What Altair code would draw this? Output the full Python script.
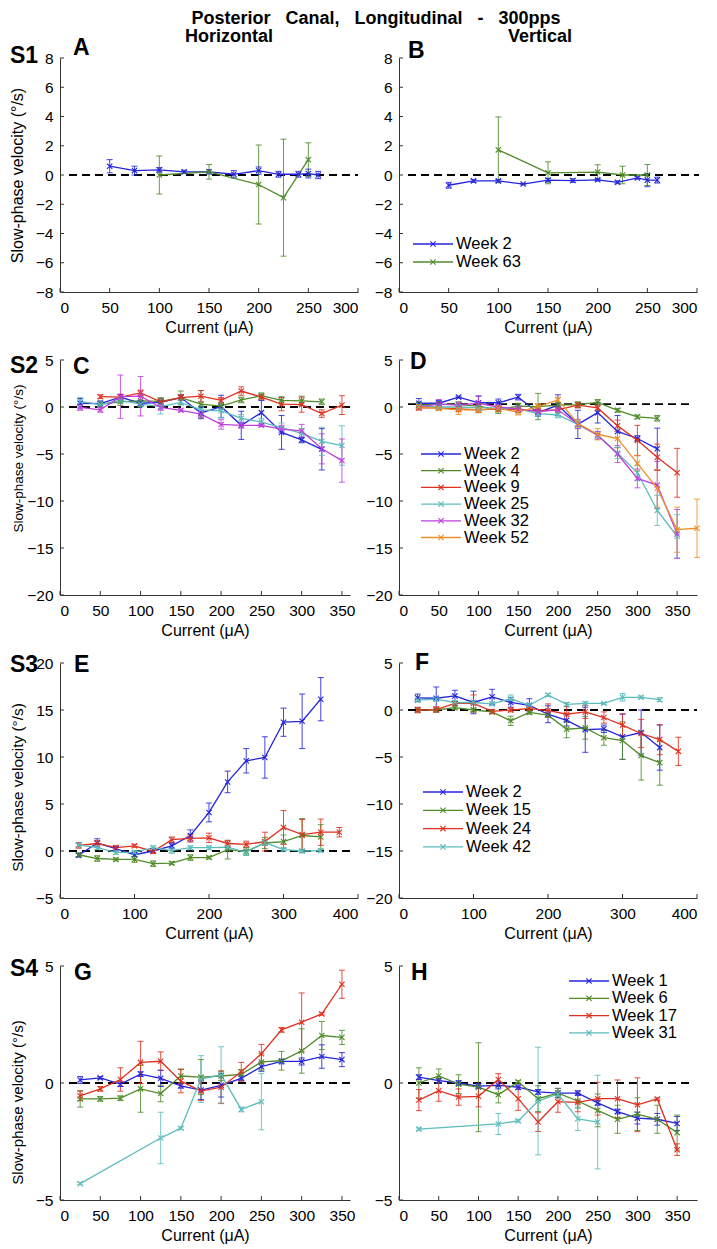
import altair as alt
import pandas as pd

FONT = "Liberation Sans"
BLUE, GREEN, RED, CYAN, MAGENTA, ORANGE = "#2424dc", "#4f8b28", "#e0301f", "#5dbcbc", "#bf3fdd", "#ea922a"
AXIS_COLOR = "#333333"
X_PATH = "M-1,-1L1,1M-1,1L1,-1"

# ---------------- data ----------------
S1_X = [50, 75, 100, 125, 150, 175, 200, 220, 240, 250, 260]
S1_X63 = [100, 150, 200, 225, 250]
X25_325 = [25, 50, 75, 100, 125, 150, 175, 200, 225, 250, 275, 300, 325]
X25_350 = [25, 50, 75, 100, 125, 150, 175, 200, 225, 250, 275, 300, 325, 350]
X25_375 = [25, 50, 75, 100, 125, 150, 175, 200, 225, 250, 275, 300, 325, 350, 375]
X50_325 = [50, 75, 100, 125, 150, 175, 200, 225, 250, 275, 300, 325]
X50_350 = [50, 75, 100, 125, 150, 175, 200, 225, 250, 275, 300, 325, 350]
S4_X31 = [25, 125, 150, 175, 200, 225, 250]

# Panel A (S1 horizontal)
A_W2_Y = [0.6, 0.3, 0.35, 0.22, 0.22, 0.05, 0.3, 0.05, 0.05, 0.1, 0.0]
A_W2_E = [0.45, 0.3, 0.15, 0.1, 0.15, 0.25, 0.25, 0.2, 0.2, 0.3, 0.25]
A_W63_Y = [0.0, 0.22, -0.65, -1.55, 1.05]
A_W63_E = [1.3, 0.5, 2.7, 4.0, 1.15]
# Panel B (S1 vertical)
B_W2_Y = [-0.7, -0.4, -0.4, -0.62, -0.35, -0.38, -0.33, -0.5, -0.2, -0.35, -0.35]
B_W2_E = [0.2, 0.1, 0.08, 0.05, 0.12, 0.12, 0.08, 0.1, 0.08, 0.45, 0.2]
B_W63_Y = [1.72, 0.15, 0.2, 0.0, 0.0]
B_W63_E = [2.25, 0.75, 0.5, 0.6, 0.72]
# Panel C (S2 horizontal)
C_W2_Y = [0.4, 0.35, 1.05, 0.4, 0.5, 1.0, -0.65, 0.05, -1.95, -0.6, -2.7, -3.5, -4.5]
C_W2_E = [0.5, 0.3, 0.3, 0.3, 0.4, 0.3, 0.6, 1.2, 1.5, 1.3, 1.8, 0.3, 2.2]
C_W4_Y = [0.3, 0.55, 0.65, 0.6, 1.0, 0.3, 0.1, 0.75, 1.2, 0.7, 0.65, 0.55]
C_W4_E = [0.3, 0.4, 0.5, 0.4, 0.7, 1.45, 0.3, 0.3, 0.3, 0.4, 0.5, 0.3]
C_W9_Y = [1.1, 1.05, 1.5, 0.55, 1.0, 1.15, 0.7, 1.7, 1.05, 0.3, 0.25, -0.7, 0.2]
C_W9_E = [0.2, 0.3, 0.3, 0.3, 0.3, 0.6, 0.3, 0.45, 0.3, 0.7, 0.8, 0.4, 1.0]
C_W25_Y = [0.6, 0.25, 0.7, 0.3, 0.05, 0.5, -0.3, -0.4, -1.2, -1.6, -2.2, -2.8, -3.65, -4.1]
C_W25_E = [0.4, 0.3, 0.3, 0.3, 0.8, 0.3, 0.4, 0.7, 0.4, 0.4, 0.5, 0.5, 1.5, 2.1]
C_W32_Y = [-0.05, -0.3, 1.1, 1.15, -0.05, -0.35, -0.75, -1.85, -1.95, -1.95, -2.35, -2.55, -4.45, -5.7]
C_W32_E = [0.3, 0.25, 2.3, 2.1, 0.3, 0.15, 0.3, 0.5, 0.3, 0.15, 0.4, 0.7, 1.6, 2.3]
# Panel D (S2 vertical)
D_W2_Y = [0.4, 0.4, 1.05, 0.45, 0.45, 1.05, -0.6, 0.2, -1.85, -0.6, -2.6, -3.35, -4.45]
D_W2_E = [0.5, 0.3, 0.1, 0.7, 0.4, 0.3, 0.4, 1.1, 1.5, 1.1, 1.7, 0.3, 2.2]
D_W4_Y = [0.2, 0.3, 0.25, 0.1, -0.3, 0.1, 0.05, 0.2, 0.25, 0.5, -0.35, -1.05, -1.2]
D_W4_E = [0.3, 0.3, 0.3, 0.3, 0.4, 0.3, 1.4, 0.3, 0.3, 0.3, 0.2, 0.2, 0.3]
D_W9_Y = [-0.1, -0.1, -0.2, -0.3, -0.2, -0.3, -0.4, -0.3, 0.2, -0.1, -2.0, -3.55, -5.35, -7.0]
D_W9_E = [0.2, 0.2, 0.3, 0.3, 0.3, 0.3, 0.3, 0.3, 0.3, 0.3, 0.6, 1.6, 1.4, 2.6]
D_W25_Y = [0.1, 0.0, 0.0, -0.1, -0.1, -0.2, -0.7, -0.85, -1.85, -3.0, -4.9, -7.0, -11.0, -13.75]
D_W25_E = [0.2, 0.2, 0.2, 0.2, 0.2, 0.3, 0.3, 0.3, 0.4, 0.4, 0.6, 0.8, 1.6, 2.3]
D_W32_Y = [0.0, 0.3, 0.2, 0.4, 0.0, -0.2, -0.5, -0.3, -1.8, -3.0, -5.0, -7.6, -8.3, -13.5]
D_W32_E = [0.3, 0.5, 0.3, 0.8, 0.3, 0.3, 0.3, 0.3, 0.5, 0.4, 0.9, 1.0, 2.5, 2.6]
D_W52_Y = [0.0, -0.15, -0.3, -0.3, -0.15, -0.55, 0.05, 0.75, -1.75, -2.9, -3.35, -6.0, -8.65, -13.05, -12.9]
D_W52_E = [0.3, 0.2, 0.5, 0.3, 0.3, 0.3, 0.3, 0.3, 0.4, 0.6, 1.0, 0.8, 2.0, 2.4, 3.1]
# Panel E (S3 horizontal)
E_W2_Y = [-0.45, 0.85, 0.25, -0.4, 0.0, 0.55, 1.65, 4.1, 7.35, 9.6, 9.95, 13.7, 13.8, 16.15]
E_W2_E = [0.2, 0.45, 0.2, 0.2, 0.2, 0.3, 0.6, 1.0, 1.15, 1.3, 2.2, 1.5, 2.9, 2.3]
E_W15_Y = [-0.4, -0.8, -0.9, -0.9, -1.35, -1.3, -0.7, -0.7, 0.15, -0.05, 0.85, 1.0, 1.65, 1.5]
E_W15_E = [0.2, 0.3, 0.15, 0.3, 0.3, 0.15, 0.3, 0.15, 1.0, 0.4, 0.6, 0.7, 1.8, 1.3]
E_W24_Y = [0.6, 0.8, 0.35, 0.55, -0.05, 1.2, 1.35, 1.4, 0.8, 0.7, 1.0, 2.5, 1.75, 2.0, 2.0]
E_W24_E = [0.3, 0.3, 0.25, 0.15, 0.2, 0.3, 0.4, 0.5, 0.3, 0.35, 1.0, 1.8, 1.6, 1.4, 0.5]
E_W42_Y = [0.65, 0.35, -0.15, -0.15, 0.35, 0.05, 0.35, 0.35, 0.4, -0.15, 0.9, 0.15, 0.0, 0.05]
E_W42_E = [0.15, 0.2, 0.2, 0.2, 0.2, 0.3, 0.2, 0.2, 0.2, 0.3, 0.3, 0.15, 0.2, 0.15]
# Panel F (S3 vertical)
F_W2_Y = [1.3, 1.25, 1.5, 0.8, 1.4, 0.8, 0.5, -0.45, -1.1, -2.1, -2.0, -2.85, -2.4, -4.0]
F_W2_E = [0.4, 1.2, 0.6, 1.2, 0.8, 0.5, 0.7, 0.9, 0.6, 2.4, 0.4, 2.4, 2.4, 2.4]
F_W15_Y = [0.0, 0.0, 0.25, 0.0, -0.2, -1.15, -0.25, -0.55, -2.05, -1.9, -2.95, -3.25, -4.85, -5.6]
F_W15_E = [0.2, 0.2, 0.2, 0.2, 0.2, 0.5, 0.2, 0.2, 0.9, 1.2, 0.8, 2.0, 2.6, 2.4]
F_W24_Y = [0.0, 0.05, 0.7, 0.7, -0.15, 0.0, 0.15, -0.05, -0.45, -0.2, -0.8, -1.6, -2.5, -3.15, -4.4]
F_W24_E = [0.3, 0.3, 0.2, 0.9, 0.2, 0.2, 0.2, 0.7, 0.8, 0.7, 0.6, 1.2, 1.5, 1.6, 1.5]
F_W42_Y = [1.05, 1.15, 0.8, 0.8, 0.65, 1.2, 0.5, 1.6, 0.6, 0.7, 0.7, 1.35, 1.35, 1.1]
F_W42_E = [0.2, 0.2, 0.2, 0.2, 0.2, 0.4, 0.2, 0.15, 0.2, 0.2, 0.1, 0.4, 0.15, 0.2]
# Panel G (S4 horizontal)
G_W1_Y = [0.13, 0.22, -0.05, 0.38, 0.2, -0.12, -0.3, -0.1, 0.2, 0.7, 0.92, 0.92, 1.13, 1.0]
G_W1_E = [0.15, 0.05, 0.1, 0.1, 0.35, 0.1, 0.4, 0.5, 0.1, 0.2, 0.1, 0.15, 0.5, 0.3]
G_W6_Y = [-0.68, -0.68, -0.65, -0.25, -0.45, 0.3, 0.25, 0.3, 0.37, 0.9, 0.95, 1.37, 2.03, 1.95]
G_W6_E = [0.35, 0.1, 0.1, 1.0, 0.35, 0.3, 0.75, 0.2, 0.2, 0.35, 0.4, 0.95, 0.6, 0.3]
G_W17_Y = [-0.55, -0.25, 0.15, 0.88, 0.93, 0.08, -0.35, -0.18, 0.48, 1.25, 2.27, 2.6, 2.95, 4.22]
G_W17_E = [0.2, 0.1, 0.5, 0.9, 0.4, 0.5, 0.4, 0.7, 0.4, 0.4, 0.1, 1.25, 0.05, 0.6]
G_W31_Y = [-4.3, -2.35, -1.93, 0.17, 0.35, -1.13, -0.8]
G_W31_E = [0.05, 1.1, 0.05, 1.0, 1.2, 0.1, 1.2]
# Panel H (S4 vertical)
H_W1_Y = [0.25, 0.1, 0.0, -0.13, -0.1, -0.18, -0.38, -0.43, -0.43, -0.85, -1.22, -1.5, -1.55, -1.73]
H_W1_E = [0.1, 0.1, 0.1, 0.1, 0.15, 0.1, 0.1, 0.2, 0.1, 0.1, 0.1, 0.25, 0.25, 0.3]
H_W6_Y = [0.0, 0.3, -0.05, -0.18, -0.5, 0.05, -0.67, -0.43, -0.77, -1.17, -1.55, -1.33, -1.55, -2.12]
H_W6_E = [0.65, 0.3, 0.4, 1.9, 0.35, 0.05, 0.55, 0.2, 0.3, 0.7, 0.6, 0.7, 0.6, 0.75]
H_W17_Y = [-0.73, -0.33, -0.6, -0.57, 0.15, -0.67, -1.67, -0.8, -0.83, -0.67, -0.67, -0.93, -0.68, -2.85]
H_W17_E = [0.45, 0.45, 0.35, 0.45, 0.25, 0.5, 0.4, 0.45, 0.4, 0.7, 0.8, 1.15, 0.05, 0.25]
H_W31_Y = [-1.97, -1.75, -1.62, -0.77, -0.47, -1.53, -1.67]
H_W31_E = [0.05, 0.45, 0.05, 2.3, 0.1, 0.5, 2.0]

TICKS_300 = [0, 50, 100, 150, 200, 250, 300]
TICKS_350 = [0, 50, 100, 150, 200, 250, 300, 350]
TICKS_400 = [0, 100, 200, 300, 400]
Y_TICKS_8 = [-8, -6, -4, -2, 0, 2, 4, 6, 8]
Y_TICKS_20 = [-20, -15, -10, -5, 0, 5]
Y_TICKS_E = [-5, 0, 5, 10, 15, 20]
Y_TICKS_5 = [-5, 0, 5]

YTITLE = "Slow-phase velocity (°/s)"
XTITLE = "Current (μA)"
SP = "\u00a0\u00a0\u00a0"
MAIN_TITLE = "Posterior" + SP + "Canal," + SP + "Longitudinal" + SP + "-" + SP + "300pps"

PANELS = [
    dict(letter="A", lpos=(13, -3), s=("S1", 5), ytitle=(117, 16),
         xdom=[0, 300], xt=TICKS_300, ydom=[-8, 8], yt=Y_TICKS_8, w=298, h=234, zero=0, zend=298,
         series=[("Week 2", BLUE, S1_X, A_W2_Y, A_W2_E), ("Week 63", GREEN, S1_X63, A_W63_Y, A_W63_E)],
         legend=None, extra=[("Horizontal", 169, -16, "center", "alphabetic"),
                             (MAIN_TITLE, 316, -48, "center", "top")]),
    dict(letter="B", lpos=(9, 0), s=None, ytitle=None,
         xdom=[0, 300], xt=TICKS_300, ydom=[-8, 8], yt=Y_TICKS_8, w=298, h=234, zero=0, zend=300,
         series=[("Week 2", BLUE, S1_X, B_W2_Y, B_W2_E), ("Week 63", GREEN, S1_X63, B_W63_Y, B_W63_E)],
         legend=(14, 54, 186, 18), extra=[("Vertical", 141, -16, "center", "alphabetic")]),
    dict(letter="C", lpos=(13, 14), s=("S2", 13), ytitle=(98, 13.5),
         xdom=[0, 360], xt=TICKS_350, ydom=[-20, 5], yt=Y_TICKS_20, w=290, h=235, zero=0, zend=290,
         series=[("Week 2", BLUE, X25_325, C_W2_Y, C_W2_E), ("Week 4", GREEN, X50_325, C_W4_Y, C_W4_E),
                 ("Week 9", RED, X50_350, C_W9_Y, C_W9_E), ("Week 25", CYAN, X25_350, C_W25_Y, C_W25_E),
                 ("Week 32", MAGENTA, X25_350, C_W32_Y, C_W32_E)],
         legend=None, extra=[]),
    dict(letter="D", lpos=(11, 9), s=None, ytitle=None,
         xdom=[0, 375], xt=TICKS_350, ydom=[-20, 5], yt=Y_TICKS_20, w=298, h=235, zero=0.3, zend=290,
         series=[("Week 2", BLUE, X25_325, D_W2_Y, D_W2_E), ("Week 4", GREEN, X25_325, D_W4_Y, D_W4_E),
                 ("Week 9", RED, X25_350, D_W9_Y, D_W9_E), ("Week 25", CYAN, X25_350, D_W25_Y, D_W25_E),
                 ("Week 32", MAGENTA, X25_350, D_W32_Y, D_W32_E), ("Week 52", ORANGE, X25_375, D_W52_Y, D_W52_E)],
         legend=(22, 62, 94, 16.7), extra=[]),
    dict(letter="E", lpos=(14, 9), s=("S3", 9), ytitle=(124, 15.4),
         xdom=[0, 400], xt=TICKS_400, ydom=[-5, 20], yt=Y_TICKS_E, w=298, h=235, zero=0, zend=292,
         series=[("Week 2", BLUE, X25_350, E_W2_Y, E_W2_E), ("Week 15", GREEN, X25_350, E_W15_Y, E_W15_E),
                 ("Week 24", RED, X25_375, E_W24_Y, E_W24_E), ("Week 42", CYAN, X25_350, E_W42_Y, E_W42_E)],
         legend=None, extra=[]),
    dict(letter="F", lpos=(16, 7), s=None, ytitle=None,
         xdom=[0, 400], xt=TICKS_400, ydom=[-20, 5], yt=Y_TICKS_20, w=298, h=235, zero=0, zend=298,
         series=[("Week 2", BLUE, X25_350, F_W2_Y, F_W2_E), ("Week 15", GREEN, X25_350, F_W15_Y, F_W15_E),
                 ("Week 24", RED, X25_375, F_W24_Y, F_W24_E), ("Week 42", CYAN, X25_350, F_W42_Y, F_W42_E)],
         legend=(24, 64, 129, 18.3), extra=[]),
    dict(letter="G", lpos=(14, 14), s=("S4", 10), ytitle=(136, 15),
         xdom=[0, 360], xt=TICKS_350, ydom=[-5, 5], yt=Y_TICKS_5, w=290, h=234, zero=0, zend=290,
         series=[("Week 1", BLUE, X25_350, G_W1_Y, G_W1_E), ("Week 6", GREEN, X25_350, G_W6_Y, G_W6_E),
                 ("Week 17", RED, X25_350, G_W17_Y, G_W17_E), ("Week 31", CYAN, S4_X31, G_W31_Y, G_W31_E)],
         legend=None, extra=[]),
    dict(letter="H", lpos=(12, 14), s=None, ytitle=None,
         xdom=[0, 375], xt=TICKS_350, ydom=[-5, 5], yt=Y_TICKS_5, w=298, h=234, zero=0, zend=290,
         series=[("Week 1", BLUE, X25_350, H_W1_Y, H_W1_E), ("Week 6", GREEN, X25_350, H_W6_Y, H_W6_E),
                 ("Week 17", RED, X25_350, H_W17_Y, H_W17_E), ("Week 31", CYAN, S4_X31, H_W31_Y, H_W31_E)],
         legend=(170, 210, 15, 17.3), extra=[]),
]

ONE = pd.DataFrame({"k": [0]})


def txt(s, x, y, size, bold=True, align="left", baseline="alphabetic", color="black"):
    return alt.Chart(ONE).mark_text(
        font=FONT, fontSize=size, fontWeight="bold" if bold else "normal",
        align=align, baseline=baseline, color=color,
    ).encode(x=alt.value(x), y=alt.value(y), text=alt.value(s))


def make_panel(p):
    rows = []
    for name, col, xs, ys, es in p["series"]:
        for x, y, e in zip(xs, ys, es):
            rows.append(dict(series=name, x=x, y=y, lo=y - e, hi=y + e))
    df = pd.DataFrame(rows)
    names = [s[0] for s in p["series"]]
    cols = [s[1] for s in p["series"]]

    xs = alt.Scale(domain=p["xdom"], nice=False, zero=False, padding=0)
    ys = alt.Scale(domain=p["ydom"], nice=False, zero=False, padding=0)
    ax_x = alt.Axis(values=p["xt"], title=XTITLE, grid=False, ticks=False, titlePadding=4)
    if p["ytitle"] is not None:
        ax_y = alt.Axis(values=p["yt"], title=YTITLE, grid=False, ticks=False, titleX=-35,
                        titleY=p["ytitle"][0], titleFontSize=p["ytitle"][1])
    else:
        ax_y = alt.Axis(values=p["yt"], title=None, grid=False, ticks=False)

    X = alt.X("x:Q", scale=xs, axis=ax_x)
    C = alt.Color("series:N", scale=alt.Scale(domain=names, range=cols), legend=None)
    base = alt.Chart(df)
    h = p["h"]

    layers = [
        # inward tick marks (MATLAB style)
        alt.Chart(pd.DataFrame({"t": p["xt"]})).mark_rule(color=AXIS_COLOR, strokeWidth=1).encode(
            x=alt.X("t:Q", scale=xs, axis=ax_x), y=alt.value(h), y2=alt.value(h - 4)),
        alt.Chart(pd.DataFrame({"t": p["yt"]})).mark_rule(color=AXIS_COLOR, strokeWidth=1).encode(
            y=alt.Y("t:Q", scale=ys, axis=ax_y), x=alt.value(0), x2=alt.value(4)),
        alt.Chart(pd.DataFrame({"z": [p["zero"]]})).mark_rule(
            color="black", strokeDash=[8, 5], strokeWidth=1.8
        ).encode(x=alt.value(9), x2=alt.value(p["zend"]), y=alt.Y("z:Q", scale=ys, axis=ax_y)),
        base.mark_rule(strokeWidth=1, opacity=0.85).encode(
            x=X, y=alt.Y("lo:Q", scale=ys, axis=ax_y), y2="hi:Q", color=C),
        base.mark_tick(orient="horizontal", size=6, thickness=1, opacity=0.85).encode(
            x=X, y=alt.Y("lo:Q", scale=ys, axis=ax_y), color=C),
        base.mark_tick(orient="horizontal", size=6, thickness=1, opacity=0.85).encode(
            x=X, y=alt.Y("hi:Q", scale=ys, axis=ax_y), color=C),
        base.mark_line(strokeWidth=1.3).encode(
            x=X, y=alt.Y("y:Q", scale=ys, axis=ax_y), color=C),
        base.mark_point(shape=X_PATH, size=28, filled=False, strokeWidth=1.1, opacity=1).encode(
            x=X, y=alt.Y("y:Q", scale=ys, axis=ax_y), color=C),
    ]

    lx, ly = p["lpos"]
    layers.append(txt(p["letter"], lx, ly, 23))
    if p["s"] is not None:
        layers.append(txt(p["s"][0], -50, p["s"][1], 23))
    for s, x, y, al, bl in p["extra"]:
        layers.append(txt(s, x, y, 18, align=al, baseline=bl))

    if p["legend"] is not None:
        x0, x1, y0, dy = p["legend"]
        for i, (name, col) in enumerate(zip(names, cols)):
            yy = y0 + i * dy
            layers.append(alt.Chart(ONE).mark_rule(color=col, strokeWidth=1.3).encode(
                x=alt.value(x0), x2=alt.value(x1), y=alt.value(yy)))
            layers.append(alt.Chart(ONE).mark_point(
                shape=X_PATH, size=28, filled=False, strokeWidth=1.1, color=col, opacity=1
            ).encode(x=alt.value((x0 + x1) / 2), y=alt.value(yy)))
            layers.append(txt(name, x1 + 3, yy, 16.5, bold=False, baseline="middle"))

    return alt.layer(*layers).properties(width=p["w"], height=p["h"])


chart = alt.concat(
    *[make_panel(p) for p in PANELS],
    columns=2,
    spacing={"row": 68, "column": 41},
    bounds="flush",
).resolve_scale(
    color="independent"
).properties(
    padding={"top": 2, "left": 0, "right": 0, "bottom": 0}
).configure_view(
    stroke=None
).configure_axis(
    labelFont=FONT, titleFont=FONT, labelFontSize=15.5, titleFontSize=16,
    labelColor="black", titleColor="black", titleFontWeight="normal",
    domainColor=AXIS_COLOR, domainWidth=1,
).configure_axisX(
    labelPadding=8
).configure_axisY(
    labelPadding=7
)

chart.save("out.html", embed_options={"renderer": "svg", "actions": False})
